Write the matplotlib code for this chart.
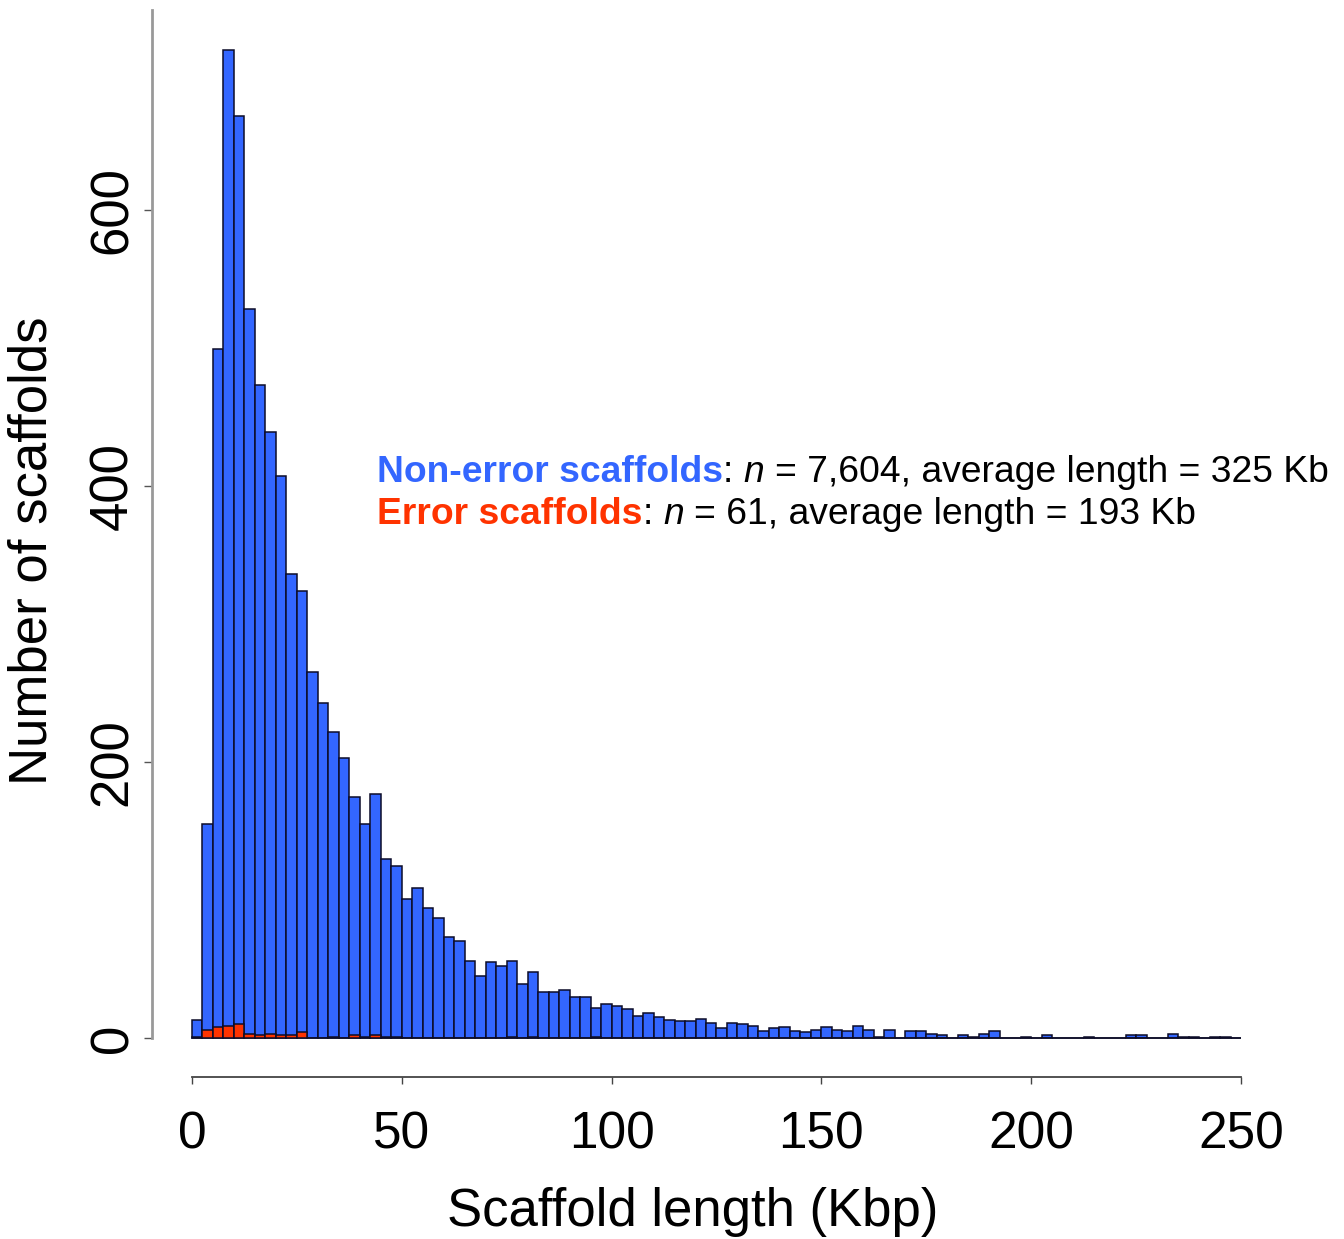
import numpy as np
import matplotlib
matplotlib.use("Agg")
import matplotlib.pyplot as plt

plt.rcParams['font.family'] = ['Liberation Sans', 'DejaVu Sans']

# ---- data (bin width 2.5 Kbp, 0-250 Kbp) ----
bin_width = 2.5
bin_starts = np.arange(0, 250, bin_width)
non_error_counts = [13, 155, 499, 716, 668, 528, 473, 439, 407, 336,
                    324, 265, 243, 222, 203, 175, 155, 177, 130, 125,
                    101, 109, 94, 87, 73, 70, 56, 45, 55, 52,
                    56, 39, 48, 33, 33, 35, 30, 30, 22, 25,
                    23, 21, 16, 18, 15, 13, 12, 12, 14, 11,
                    7, 11, 10, 9, 5, 7, 8, 5, 4, 6,
                    8, 6, 5, 9, 6, 1, 6, 0, 5, 5,
                    3, 2, 0, 2, 1, 3, 5, 0, 0, 1,
                    0, 2, 0, 0, 0, 1, 0, 0, 0, 2,
                    2, 0, 0, 3, 1, 1, 0, 1, 1, 0]
error_counts = [1, 6, 8, 9, 10, 3, 2, 3, 2, 2,
                4, 0, 0, 1, 0, 2, 1, 2, 1, 1,
                0, 0, 0, 0, 0, 0, 0, 0, 0, 0,
                1, 0, 1, 0, 0, 0, 0, 0, 1, 0] + [0] * 60
x_ticks = [0, 50, 100, 150, 200, 250]
y_ticks = [0, 200, 400, 600]

blue = "#3366FF"
red = "#FF3300"

W, H = 1344, 1239
fig = plt.figure(figsize=(W / 100, H / 100), dpi=100)
ax = fig.add_axes([192 / W, (H - 1038) / H, (1241 - 192) / W, (1038 - 10) / H])

ax.bar(bin_starts, non_error_counts, width=bin_width, align='edge',
       color=blue, edgecolor="#0c0c28", linewidth=1.1, clip_on=False, zorder=2)
ax.bar(bin_starts, error_counts, width=bin_width, align='edge',
       color=red, edgecolor="#0c0c28", linewidth=1.1, clip_on=False, zorder=3)

ax.set_xlim(0, 250)
ax.set_ylim(0, 745)

for s in ['top', 'right']:
    ax.spines[s].set_visible(False)
ax.spines['left'].set_position(('outward', 40 * 0.72))
ax.spines['left'].set_color('#999999')
ax.spines['left'].set_linewidth(2.0)
ax.spines['bottom'].set_position(('outward', 39 * 0.72))
ax.spines['bottom'].set_bounds(0, 250)
ax.spines['bottom'].set_color('#444444')
ax.spines['bottom'].set_linewidth(1.3)

ax.set_xticks(x_ticks)
ax.set_xticklabels([str(v) for v in x_ticks], fontsize=37)
ax.set_yticks(y_ticks)
ax.set_yticklabels([str(v) for v in y_ticks], fontsize=38, rotation=90, va='center')
ax.tick_params(axis='x', length=5, width=1.0, color='#444444', pad=19)
ax.tick_params(axis='y', length=6, width=1.0, color='#555555', pad=4)

fig.text(693 / W, 1 - 1212 / H, "Scaffold length (Kbp)", fontsize=38,
         ha='center', va='center')
fig.text(33 / W, 1 - 551 / H, "Number of scaffolds", fontsize=38,
         ha='center', va='center', rotation=90)

# ---- annotation with mixed styles ----
renderer = fig.canvas.get_renderer()
fs = 26.8

def space_width(**kw):
    t1 = fig.text(0, 0, "a a", fontsize=fs, **kw)
    t2 = fig.text(0, 0, "aa", fontsize=fs, **kw)
    w = t1.get_window_extent(renderer).width - t2.get_window_extent(renderer).width
    t1.remove(); t2.remove()
    return w

sp = space_width()

def draw_line(x0, baseline, segments):
    x = x0
    for txt, kw, gap_after in segments:
        t = fig.text(x / W, 1 - baseline / H, txt, fontsize=fs, va='baseline',
                     ha='left', **kw)
        ext = t.get_window_extent(renderer)
        x = ext.x1 + (sp if gap_after else 0)

line1 = [("Non-error scaffolds", dict(color=blue, fontweight='bold'), False),
         (":", dict(color='black'), True),
         ("n", dict(color='black', style='italic'), True),
         ("= 7,604, average length = 325 Kb", dict(color='black'), False)]
line2 = [("Error scaffolds", dict(color=red, fontweight='bold'), False),
         (":", dict(color='black'), True),
         ("n", dict(color='black', style='italic'), True),
         ("= 61, average length = 193 Kb", dict(color='black'), False)]
draw_line(377, 482, line1)
draw_line(377, 524, line2)

fig.savefig("out.png", dpi=100)
